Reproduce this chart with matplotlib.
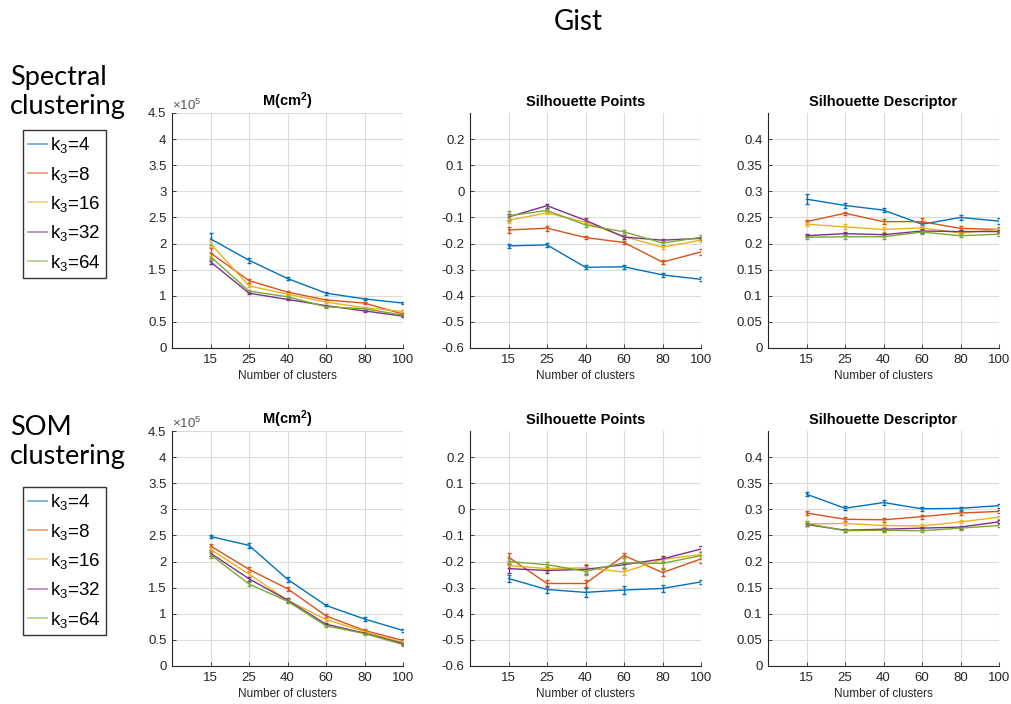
import matplotlib
matplotlib.use("Agg")
import matplotlib.pyplot as plt
from matplotlib.lines import Line2D

plt.rcParams['font.family'] = ['Liberation Sans', 'DejaVu Sans']
plt.rcParams['mathtext.fontset'] = 'custom'
plt.rcParams['mathtext.rm'] = 'Liberation Sans'
plt.rcParams['mathtext.it'] = 'Liberation Sans:italic'
plt.rcParams['mathtext.bf'] = 'Liberation Sans:bold'
plt.rcParams['mathtext.default'] = 'rm'

# ---------------- data ----------------
clusters = ["15", "25", "40", "60", "80", "100"]
series_labels = ["k$_3$=4", "k$_3$=8", "k$_3$=16", "k$_3$=32", "k$_3$=64"]
colors = ["#0072BD", "#D95319", "#EDB120", "#7E2F8E", "#77AC30"]

# Spectral clustering -- M(cm^2) in units of 1e5
spec_M = [
    [2.09, 1.68, 1.33, 1.05, 0.94, 0.86],
    [1.82, 1.29, 1.07, 0.92, 0.86, 0.65],
    [2.00, 1.19, 1.03, 0.88, 0.77, 0.70],
    [1.65, 1.05, 0.93, 0.81, 0.71, 0.61],
    [1.75, 1.09, 0.98, 0.79, 0.75, 0.63],
]
spec_M_err = [
    [0.12, 0.05, 0.03, 0.03, 0.02, 0.02],
    [0.10, 0.04, 0.03, 0.02, 0.02, 0.02],
    [0.06, 0.03, 0.02, 0.02, 0.02, 0.02],
    [0.04, 0.02, 0.02, 0.02, 0.02, 0.02],
    [0.07, 0.02, 0.02, 0.02, 0.02, 0.02],
]
spec_SP = [
    [-0.209, -0.205, -0.291, -0.289, -0.320, -0.337],
    [-0.148, -0.141, -0.177, -0.196, -0.271, -0.232],
    [-0.111, -0.082, -0.119, -0.173, -0.214, -0.187],
    [-0.098, -0.055, -0.111, -0.175, -0.187, -0.180],
    [-0.094, -0.073, -0.129, -0.155, -0.198, -0.176],
]
spec_SP_err = [
    [0.008, 0.008, 0.007, 0.007, 0.007, 0.008],
    [0.012, 0.010, 0.007, 0.006, 0.008, 0.010],
    [0.010, 0.006, 0.006, 0.006, 0.006, 0.006],
    [0.010, 0.007, 0.008, 0.006, 0.006, 0.006],
    [0.018, 0.006, 0.008, 0.006, 0.006, 0.008],
]
spec_SD = [
    [0.285, 0.273, 0.264, 0.237, 0.250, 0.243],
    [0.242, 0.258, 0.242, 0.242, 0.229, 0.227],
    [0.237, 0.232, 0.227, 0.230, 0.220, 0.227],
    [0.215, 0.219, 0.217, 0.224, 0.223, 0.223],
    [0.212, 0.213, 0.213, 0.222, 0.215, 0.218],
]
spec_SD_err = [
    [0.010, 0.005, 0.004, 0.005, 0.004, 0.005],
    [0.004, 0.003, 0.005, 0.006, 0.004, 0.004],
    [0.004, 0.005, 0.004, 0.003, 0.003, 0.003],
    [0.003, 0.003, 0.003, 0.003, 0.003, 0.003],
    [0.003, 0.004, 0.004, 0.003, 0.003, 0.003],
]

# SOM clustering
som_M = [
    [2.48, 2.31, 1.66, 1.16, 0.90, 0.68],
    [2.30, 1.85, 1.48, 0.96, 0.68, 0.49],
    [2.23, 1.76, 1.26, 0.89, 0.66, 0.45],
    [2.16, 1.67, 1.26, 0.80, 0.63, 0.43],
    [2.13, 1.57, 1.24, 0.77, 0.62, 0.41],
]
som_M_err = [
    [0.03, 0.05, 0.05, 0.02, 0.03, 0.03],
    [0.03, 0.05, 0.04, 0.03, 0.02, 0.02],
    [0.05, 0.05, 0.04, 0.03, 0.02, 0.02],
    [0.06, 0.04, 0.04, 0.02, 0.02, 0.02],
    [0.07, 0.04, 0.04, 0.02, 0.02, 0.02],
]
som_SP = [
    [-0.265, -0.307, -0.318, -0.309, -0.303, -0.278],
    [-0.183, -0.284, -0.284, -0.177, -0.242, -0.190],
    [-0.215, -0.227, -0.224, -0.240, -0.192, -0.173],
    [-0.227, -0.234, -0.230, -0.212, -0.190, -0.152],
    [-0.200, -0.212, -0.237, -0.205, -0.207, -0.177],
]
som_SP_err = [
    [0.012, 0.012, 0.016, 0.014, 0.014, 0.008],
    [0.014, 0.012, 0.015, 0.010, 0.012, 0.014],
    [0.010, 0.010, 0.016, 0.012, 0.010, 0.010],
    [0.016, 0.010, 0.016, 0.012, 0.012, 0.012],
    [0.012, 0.010, 0.015, 0.018, 0.016, 0.012],
]
som_SD = [
    [0.329, 0.302, 0.313, 0.301, 0.302, 0.307],
    [0.293, 0.281, 0.280, 0.286, 0.293, 0.296],
    [0.272, 0.273, 0.269, 0.268, 0.276, 0.285],
    [0.271, 0.260, 0.262, 0.264, 0.266, 0.276],
    [0.273, 0.259, 0.260, 0.259, 0.264, 0.269],
]
som_SD_err = [
    [0.004, 0.004, 0.004, 0.004, 0.003, 0.004],
    [0.003, 0.004, 0.004, 0.004, 0.003, 0.003],
    [0.003, 0.003, 0.003, 0.003, 0.003, 0.003],
    [0.003, 0.003, 0.003, 0.003, 0.003, 0.003],
    [0.004, 0.003, 0.004, 0.003, 0.003, 0.003],
]

row_titles = ["Spectral\nclustering", "SOM\nclustering"]
panel_titles = [r"$\mathbf{M(cm^{2})}$", "Silhouette Points", "Silhouette Descriptor"]
xlabel = "Number of clusters"
fig_title = "Gist"

M_ticks = [0, 0.5, 1, 1.5, 2, 2.5, 3, 3.5, 4, 4.5]
SP_ticks = [-0.6, -0.5, -0.4, -0.3, -0.2, -0.1, 0, 0.1, 0.2]
SD_ticks = [0, 0.05, 0.1, 0.15, 0.2, 0.25, 0.3, 0.35, 0.4]

# ---------------- figure ----------------
W, H = 1011, 704
fig = plt.figure(figsize=(W / 100, H / 100), dpi=100)

axis_col = "#262626"
lefts = [172, 470, 768]
pw, ph = 231, 235
row_top = [113, 431]

rows = [
    [(spec_M, spec_M_err), (spec_SP, spec_SP_err), (spec_SD, spec_SD_err)],
    [(som_M, som_M_err), (som_SP, som_SP_err), (som_SD, som_SD_err)],
]
ylims = [(0, 4.5), (-0.6, 0.3), (0, 0.45)]
yticks = [M_ticks, SP_ticks, SD_ticks]
ytl = [
    ["0", "0.5", "1", "1.5", "2", "2.5", "3", "3.5", "4", "4.5"],
    ["-0.6", "-0.5", "-0.4", "-0.3", "-0.2", "-0.1", "0", "0.1", "0.2"],
    ["0", "0.05", "0.1", "0.15", "0.2", "0.25", "0.3", "0.35", "0.4"],
]
xpos = list(range(1, len(clusters) + 1))

for r in range(2):
    for c in range(3):
        x0 = lefts[c] / W
        y0 = (H - row_top[r] - ph) / H
        ax = fig.add_axes([x0, y0, pw / W, ph / H])
        vals, errs = rows[r][c]
        for s in range(len(vals)):
            ax.errorbar(xpos, vals[s], yerr=errs[s], color=colors[s], lw=1.0,
                        elinewidth=1.0, capsize=1.5, capthick=1.0)
        ax.set_xlim(0, len(clusters))
        ax.set_ylim(*ylims[c])
        ax.set_xticks(xpos)
        ax.set_xticklabels(clusters)
        ax.set_yticks(yticks[c])
        ax.set_yticklabels(ytl[c])
        ax.grid(True, color="#dcdcdc", lw=0.8)
        ax.set_axisbelow(True)
        for side in ["top", "right"]:
            ax.spines[side].set_visible(False)
        for side in ["left", "bottom"]:
            ax.spines[side].set_color(axis_col)
            ax.spines[side].set_linewidth(0.8)
        ax.tick_params(direction="in", length=3, width=0.6, colors=axis_col,
                       labelsize=9.5, pad=4)
        ax.set_title(panel_titles[c], fontsize=10.5, fontweight="bold", pad=5)
        ax.set_xlabel(xlabel, fontsize=8.5, color=axis_col, labelpad=3)
        if c == 0:
            ax.text(0.0, 1.0, r"$\times10^{5}$", transform=ax.transAxes,
                    fontsize=9.5, color="#555555", ha="left", va="bottom")

# row titles and legends
row_text_y = [65, 415]
legend_top = [130, 487]
for r in range(2):
    fig.text(10 / W, 1 - row_text_y[r] / H, row_titles[r], fontsize=19.5,
             family=["Lato", "DejaVu Sans"], ha="left", va="top", linespacing=1.2)
    handles = [Line2D([0], [0], color=colors[s], lw=1.2, alpha=0.6)
               for s in range(len(series_labels))]
    fig.legend(handles, series_labels, loc="upper left",
               bbox_to_anchor=(23 / W, 1 - legend_top[r] / H),
               fontsize=13.5, frameon=True, fancybox=False, edgecolor="black",
               handlelength=1.0, handletextpad=0.15, labelspacing=0.5,
               borderpad=0.28, borderaxespad=0.0)

fig.text(578 / W, 1 - 22 / H, fig_title, fontsize=20, family=["Lato", "DejaVu Sans"],
         ha="center", va="center")

fig.savefig("out.png", dpi=100, facecolor="white")
